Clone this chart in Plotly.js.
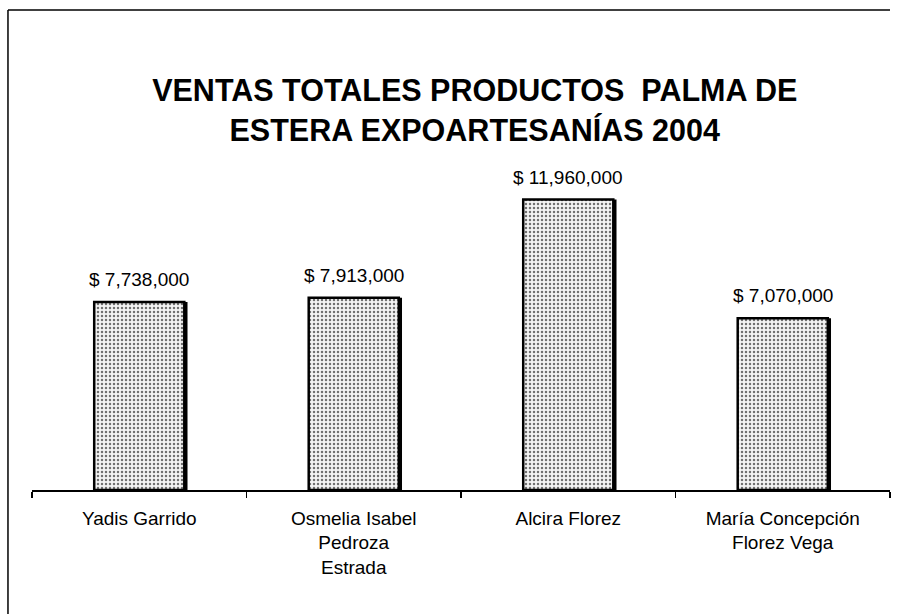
<!DOCTYPE html>
<html>
<head>
<meta charset="utf-8">
<script src="https://cdn.plot.ly/plotly-3.0.1.min.js"></script>
<style>html,body{margin:0;padding:0;background:#fff;}#chart{width:903px;height:614px;}</style>
</head>
<body>
<div id="chart"></div>
<script>
var categories = ["Yadis Garrido", "Osmelia Isabel<br>Pedroza<br>Estrada", "Alcira Florez", "María Concepción<br>Florez Vega"];
var ventas = [7738000, 7913000, 11960000, 7070000];
var chartTitle = "VENTAS TOTALES PRODUCTOS  PALMA DE<br>ESTERA EXPOARTESANÍAS 2004";

var FONT = "Liberation Sans, Arial, sans-serif";

var shadow = {
  type: "bar", x: categories, y: ventas,
  width: 0.42, offset: -0.195,
  marker: {color: "#000", line: {width: 0}},
  hoverinfo: "skip", showlegend: false
};
var main = {
  type: "bar", x: categories, y: ventas,
  width: 0.42, offset: -0.21,
  marker: {
    color: "#e4e4e4",
    pattern: {shape: ".", fgcolor: "#707070", bgcolor: "#f4f4f4", size: 4, solidity: 0.3},
    line: {color: "#000", width: 2.5}
  },
  showlegend: false
};

var labels = categories.map(function (c, i) {
  return {
    x: c, y: ventas[i], xref: "x", yref: "y",
    text: "$ " + ventas[i].toLocaleString("en-US"),
    showarrow: false, yanchor: "bottom", yshift: 10,
    font: {family: FONT, size: 19, color: "#000"}
  };
});

var layout = {
  width: 903, height: 614,
  margin: {l: 32, r: 13, t: 150, b: 124},
  paper_bgcolor: "#fff", plot_bgcolor: "#fff",
  barmode: "overlay",
  title: {
    text: chartTitle,
    font: {family: FONT, size: 30.5, color: "#000", weight: "bold"},
    x: 0.516, xref: "paper", xanchor: "center",
    y: 0.835, yref: "container", yanchor: "middle"
  },
  xaxis: {
    showline: true, linecolor: "#000", linewidth: 1.8,
    ticks: "outside", tickson: "boundaries", ticklen: 6, tickcolor: "#000", tickwidth: 1.5,
    ticklabelstandoff: 10,
    tickfont: {family: FONT, size: 19, color: "#000"},
    showgrid: false, zeroline: false, fixedrange: true
  },
  yaxis: {
    range: [0, 14000000], visible: false, showgrid: false, zeroline: false, fixedrange: true
  },
  annotations: labels,
  shapes: [
    {type: "line", xref: "paper", yref: "paper", x0: -0.028, x1: 1.0, y0: 1.412, y1: 1.412, line: {color: "#000", width: 1.5}},
    {type: "line", xref: "paper", yref: "paper", x0: -0.028, x1: -0.028, y0: 1.412, y1: -0.37, line: {color: "#000", width: 1.5}}
  ]
};

Plotly.newPlot("chart", [shadow, main], layout, {displayModeBar: false, staticPlot: true});
</script>
</body>
</html>
